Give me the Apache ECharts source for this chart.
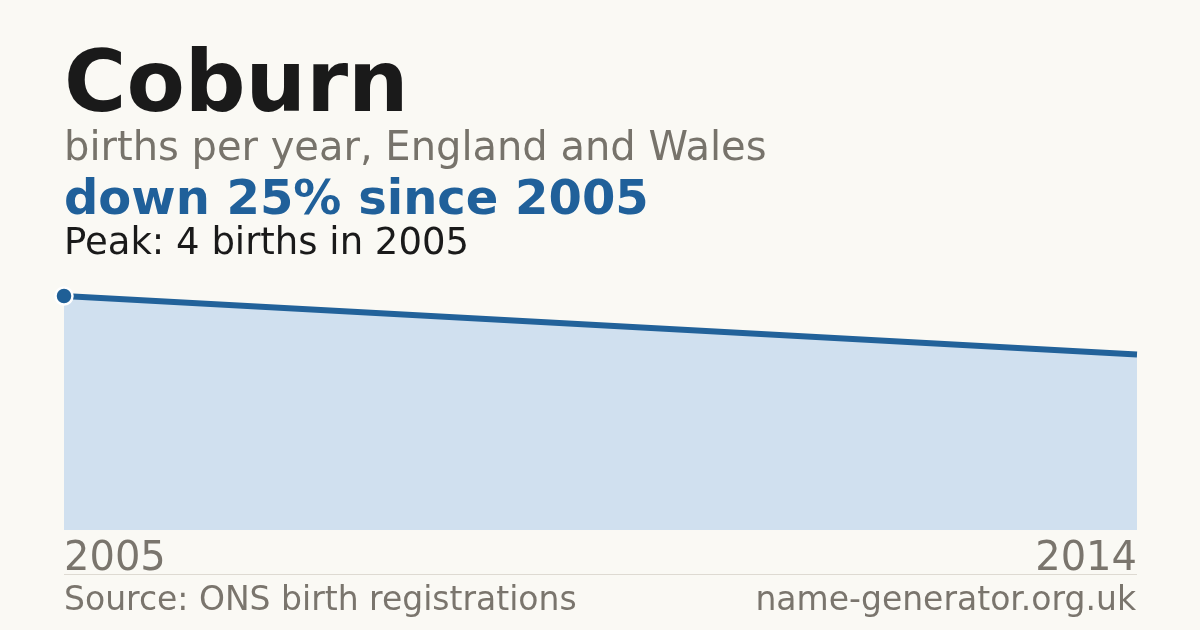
<!DOCTYPE html>
<html><head><meta charset="utf-8">
<script src="https://cdn.jsdelivr.net/npm/echarts@6/dist/echarts.min.js"></script>
<style>html,body{margin:0;padding:0;background:#faf9f4;}#c{width:1200px;height:630px;}</style>
</head><body><div id="c"></div>
<script>
const years = [2005, 2014];
const births = [4, 3];
const xTickLabels = ['2005', '2014'];
const titleText = 'Coburn';
const subtitleText = 'births per year, England and Wales';
const headlineText = 'down 25% since 2005';
const peakText = 'Peak: 4 births in 2005';
const sourceText = 'Source: ONS birth registrations';
const siteText = 'name-generator.org.uk';

const FONT = '"DejaVu Sans", sans-serif';
const chart = echarts.init(document.getElementById('c'), null, {renderer: 'canvas'});
const lineData = years.map((y, i) => [y, births[i]]);
const peakIdx = births.indexOf(Math.max(...births));

chart.setOption({
  backgroundColor: '#faf9f4',
  animation: false,
  grid: {left: 64, right: 63, top: 296, bottom: 100},
  xAxis: {
    type: 'value', min: years[0], max: years[years.length - 1],
    axisLine: {show: false}, axisTick: {show: false}, splitLine: {show: false},
    axisLabel: {
      customValues: years.map(Number),
      formatter: v => xTickLabels[years.indexOf(v)] || '',
      color: '#7a756d', fontFamily: FONT, fontSize: 40, margin: 10,
      alignMinLabel: 'left', alignMaxLabel: 'right'
    }
  },
  yAxis: {
    type: 'value', min: 0, max: 4,
    show: false, splitLine: {show: false}
  },
  series: [
    {
      type: 'line', data: lineData, symbol: 'none',
      lineStyle: {color: '#22629a', width: 6},
      areaStyle: {color: '#d0e0ef', opacity: 1},
      z: 2
    },
    {
      type: 'scatter', data: [lineData[peakIdx]], symbol: 'circle', symbolSize: 17,
      clip: false,
      itemStyle: {color: '#1f5f96', borderColor: '#ffffff', borderWidth: 2.5, opacity: 1},
      z: 5
    }
  ],
  graphic: [
    {type: 'text', x: 64, y: 89, style: {text: titleText, font: 'bold 85px ' + FONT, fill: '#1a1a1a', textAlign: 'left', textVerticalAlign: 'middle'}},
    {type: 'text', x: 64, y: 150, style: {text: subtitleText, font: '40px ' + FONT, fill: '#77736b', textAlign: 'left', textVerticalAlign: 'middle'}},
    {type: 'text', x: 64, y: 202, style: {text: headlineText, font: 'bold 48px ' + FONT, fill: '#20609a', textAlign: 'left', textVerticalAlign: 'middle'}},
    {type: 'text', x: 64, y: 244, style: {text: peakText, font: '37px ' + FONT, fill: '#1a1a1a', textAlign: 'left', textVerticalAlign: 'middle'}},
    {type: 'rect', shape: {x: 64, y: 574, width: 1073, height: 1}, style: {fill: '#dedad2'}},
    {type: 'text', x: 64, y: 601, style: {text: sourceText, font: '33px ' + FONT, fill: '#7a756d', textAlign: 'left', textVerticalAlign: 'middle'}},
    {type: 'text', x: 1136, y: 601, style: {text: siteText, font: '33px ' + FONT, fill: '#7a756d', textAlign: 'right', textVerticalAlign: 'middle'}}
  ]
});
</script></body></html>
